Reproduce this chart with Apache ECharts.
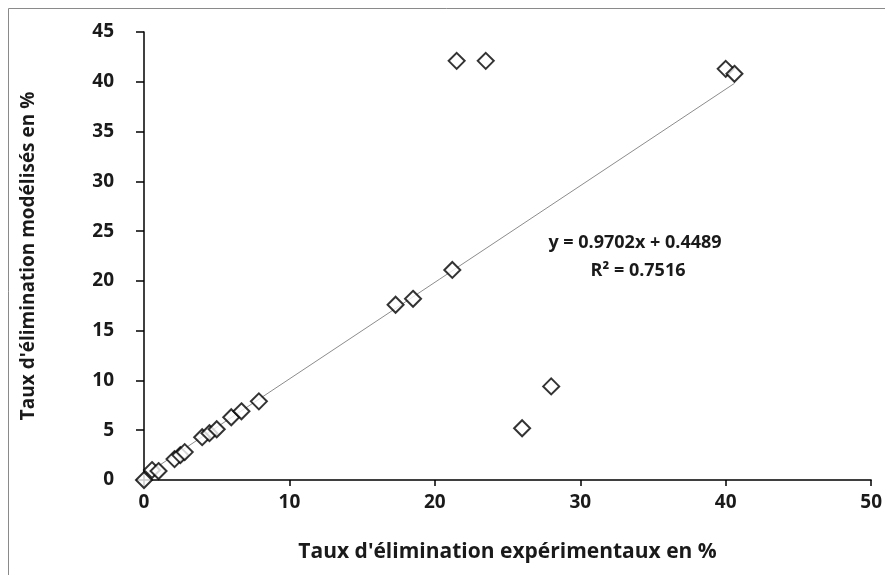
<!DOCTYPE html>
<html>
<head>
<meta charset="utf-8">
<script src="https://cdn.jsdelivr.net/npm/echarts@6/dist/echarts.min.js"></script>
<style>
  html, body { margin: 0; padding: 0; background: #fff; }
  #chart { width: 885px; height: 575px; }
</style>
</head>
<body>
<div id="chart"></div>
<script>
// experimental vs modelled removal rates (%)
const experimental = [0, 0.55, 1.0, 2.1, 2.5, 2.8, 4.0, 4.5, 5.0, 6.0, 6.7, 7.9, 17.3, 18.5, 21.2, 21.5, 23.5, 40.0, 40.6, 26.0, 28.0];
const modelled = [0, 1.0, 0.9, 2.1, 2.5, 2.8, 4.3, 4.7, 5.1, 6.3, 6.9, 7.9, 17.6, 18.2, 21.1, 42.1, 42.1, 41.3, 40.8, 5.2, 9.4];

// trendline shown in the chart
const slope = 0.9702;
const intercept = 0.4489;
const rSquared = 0.7516;
const trendRange = [0, 40.6];

const xTicks = [0, 10, 20, 30, 40, 50];
const yTicks = [0, 5, 10, 15, 20, 25, 30, 35, 40, 45];

const FONT = '"Open Sans", "Noto Sans", sans-serif';

const points = experimental.map((x, i) => [x, modelled[i]]);
const trend = trendRange.map(x => [x, slope * x + intercept]);

const chart = echarts.init(document.getElementById("chart"));
chart.setOption({
  animation: false,
  grid: { left: 144, right: 13, top: 32, bottom: 95 },
  xAxis: {
    type: "value",
    min: xTicks[0],
    max: xTicks[xTicks.length - 1],
    interval: 10,
    name: "Taux d'élimination expérimentaux en %",
    nameLocation: "middle",
    nameGap: 62,
    nameTextStyle: { fontFamily: FONT, fontWeight: "bold", fontSize: 21, color: "#1a1a1a" },
    axisLine: { onZero: false, lineStyle: { color: "#000", width: 1.5 } },
    axisTick: { show: true, length: 6, lineStyle: { color: "#000", width: 1.5 } },
    axisLabel: { margin: 13, fontFamily: FONT, fontWeight: "bold", fontSize: 19, color: "#1a1a1a" },
    splitLine: { show: false },
  },
  yAxis: {
    type: "value",
    min: yTicks[0],
    max: yTicks[yTicks.length - 1],
    interval: 5,
    name: "Taux d'élimination modélisés en %",
    nameLocation: "middle",
    nameGap: 106,
    nameTextStyle: { fontFamily: FONT, fontWeight: "bold", fontSize: 19, color: "#1a1a1a" },
    axisLine: { show: true, lineStyle: { color: "#000", width: 1.5 } },
    axisTick: { show: true, length: 8, lineStyle: { color: "#000", width: 1.5 } },
    axisLabel: { margin: 30, fontFamily: FONT, fontWeight: "bold", fontSize: 19, color: "#1a1a1a" },
    splitLine: { show: false },
  },
  series: [
    {
      type: "line",
      data: trend,
      symbol: "none",
      lineStyle: { color: "#8c8c8c", width: 1 },
      silent: true,
      z: 1,
    },
    {
      type: "scatter",
      data: points,
      symbol: "diamond",
      symbolSize: 16,
      itemStyle: { color: "#fff", borderColor: "#000", borderWidth: 2 },
      z: 2,
    },
  ],
  graphic: [
    {
      type: "polyline",
      shape: { points: [[8.5, 575], [8.5, 8.5], [885, 8.5]] },
      style: { stroke: "#8a8a8a", lineWidth: 1, fill: null },
      silent: true,
    },
    {
      type: "text",
      x: 635, y: 243,
      style: {
        text: `y = ${slope.toFixed(4)}x + ${intercept.toFixed(4)}`,
        fontFamily: FONT, fontWeight: "bold", fontSize: 18, fill: "#1a1a1a",
        align: "center", verticalAlign: "middle",
      },
    },
    {
      type: "text",
      x: 638, y: 271,
      style: {
        text: `R² = ${rSquared.toFixed(4)}`,
        fontFamily: FONT, fontWeight: "bold", fontSize: 18, fill: "#1a1a1a",
        align: "center", verticalAlign: "middle",
      },
    },
  ],
});
</script>
</body>
</html>
